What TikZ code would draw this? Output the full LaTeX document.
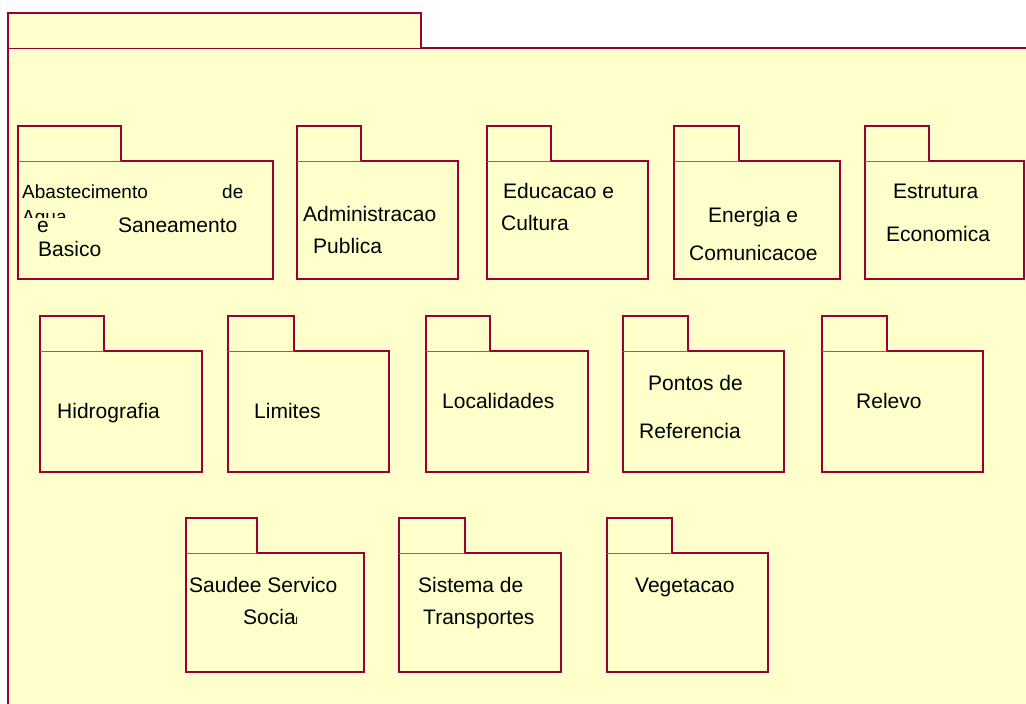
\documentclass[tikz,border=0pt]{standalone}
\usepackage{fontspec}
\setmainfont{Liberation Sans}
\usepackage{tikz}
\definecolor{pkgfill}{RGB}{255,255,204}
\definecolor{pkgline}{RGB}{153,0,51}
\tikzset{
  pkglabel/.style={anchor=base west, inner sep=0pt, text=black,
    font=\fontsize{21}{25}\selectfont},
  pkgsmall/.style={pkglabel, font=\fontsize{19}{23}\selectfont}
}
\NewDocumentCommand{\DrawPackage}{O{} m m m m m m}{%
    \def\PkgLeft{#3}
    \def\PkgTabRight{#4}
    \def\PkgRight{#5}
    \def\PkgTop{#6}
    \def\PkgBottom{#7}
    %
    \begin{scope}[#1]
      \draw [pkgline, line width=2.4pt, fill=pkgfill]
        (\PkgLeft,\PkgTop+35) -- (\PkgLeft,\PkgTop) -- (\PkgTabRight,\PkgTop)
        -- (\PkgTabRight,\PkgTop+35) -- (\PkgRight,\PkgTop+35)
        -- (\PkgRight,\PkgBottom) -- (\PkgLeft,\PkgBottom) -- cycle;
      \draw [pkgline!70, line width=1pt] (\PkgLeft,\PkgTop+35) -- (\PkgTabRight,\PkgTop+35);
      \coordinate (#2) at (\PkgLeft,\PkgTop+35);
    \end{scope}
}

\begin{document}
\begin{tikzpicture}[x=1pt, y=-1pt]

    \fill[white] (0,0) rectangle (1026,704);
    \clip (0,0) rectangle (1026,704);

    % outer package
    \draw[pkgline, line width=2.4pt, fill=pkgfill] (8,48) -- (8,13) -- (421,13) -- (421,48)
      -- (1040,48) -- (1040,720) -- (8,720) -- cycle;
    \draw[pkgline, line width=1pt] (8,48) -- (421,48);

    % first row
    \DrawPackage{abastecimento}{18}{121}{273}{126}{279}
    \DrawPackage{administracao}{297}{361}{458}{126}{279}
    \DrawPackage{educacao}{487}{551}{648}{126}{279}
    \DrawPackage{energia}{674}{739}{840}{126}{279}
    \DrawPackage{estrutura}{865}{929}{1024}{126}{279}

    % second row
    \DrawPackage{hidrografia}{40}{104}{202}{316}{472}
    \DrawPackage{limites}{228}{294}{389}{316}{472}
    \DrawPackage{localidades}{426}{490}{588}{316}{472}
    \DrawPackage{pontos}{623}{688}{784}{316}{472}
    \DrawPackage{relevo}{822}{887}{983}{316}{472}

    % third row
    \DrawPackage{saude}{186}{257}{364}{518}{672}
    \DrawPackage{sistema}{399}{465}{561}{518}{672}
    \DrawPackage{vegetacao}{607}{672}{768}{518}{672}

    % labels
    \node[pkgsmall] (abast1) at (22,198) {Abastecimento};
    \node[pkgsmall] (abast2) at (222,198) {de};
    \begin{scope}
      \clip (19,205) rectangle (272,217);
      \node[pkgsmall] (abast3) at (22,223) {Agua};
    \end{scope}
    \node[pkglabel] (abast4) at (37,232) {e};
    \node[pkglabel] (abast5) at (118,232) {Saneamento};
    \node[pkglabel] (abast6) at (38,256) {Basico};

    \node[pkglabel] (admin1) at (303,221) {Administracao};
    \node[pkglabel] (admin2) at (313,253) {Publica};
    \node[pkglabel] (educ1) at (503,198) {Educacao e};
    \node[pkglabel] (educ2) at (501,230) {Cultura};
    \node[pkglabel] (ener1) at (708,222) {Energia e};
    \node[pkglabel] (ener2) at (689,260) {Comunicacoe};
    \node[pkglabel] (estr1) at (893,198) {Estrutura};
    \node[pkglabel] (estr2) at (886,241) {Economica};

    \node[pkglabel] (hidro) at (57,418) {Hidrografia};
    \node[pkglabel] (limit) at (254,418) {Limites};
    \node[pkglabel] (local) at (442,408) {Localidades};
    \node[pkglabel] (pont1) at (648,390) {Pontos de};
    \node[pkglabel] (pont2) at (639,438) {Referencia};
    \node[pkglabel] (relev) at (856,408) {Relevo};

    \node[pkglabel] (saud1) at (189,592) {Saudee Servico};
    \node[pkglabel] (saud2) at (243,624) {Socia{\fontsize{10}{12}\selectfont l}};
    \node[pkglabel] (sist1) at (418,592) {Sistema de};
    \node[pkglabel] (sist2) at (423,624) {Transportes};
    \node[pkglabel] (veget) at (635,592) {Vegetacao};

\end{tikzpicture}
\end{document}
